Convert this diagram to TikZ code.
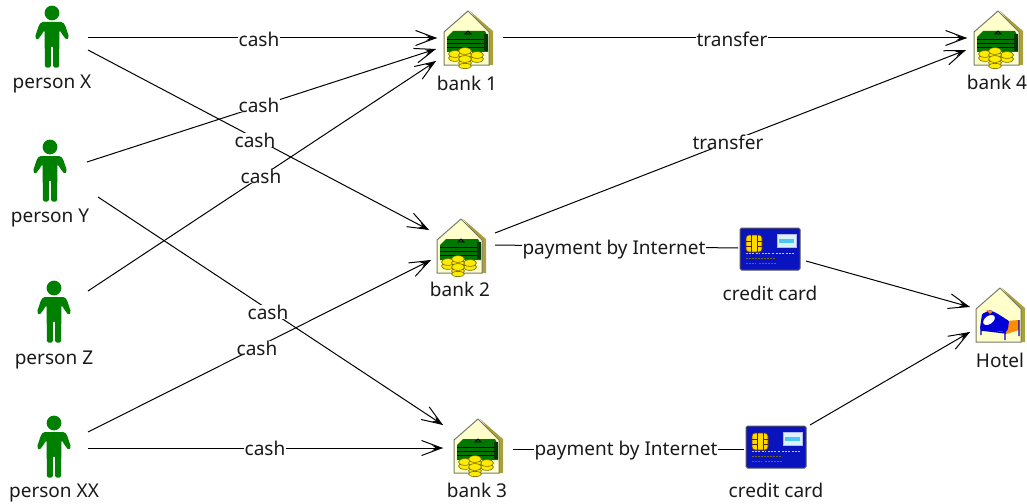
\documentclass[tikz,border=0pt]{standalone}
\usepackage{fontspec}
\setmainfont{Noto Sans}
\usetikzlibrary{arrows.meta,calc}
\definecolor{pgreen}{RGB}{0,128,0}
\definecolor{hyellow}{RGB}{255,255,204}
\definecolor{hgold}{RGB}{170,160,60}
\definecolor{hedge}{RGB}{120,120,110}
\definecolor{bill}{RGB}{0,120,0}
\definecolor{coin}{RGB}{255,235,0}
\definecolor{cardblue}{RGB}{10,20,190}
\tikzset{
  x=1pt,y=-1pt,
  icon/.style={minimum width=#1,inner sep=0pt,outer sep=0pt},
  lbl/.style={font=\fontsize{19}{22}\selectfont,text=black!90,inner sep=1pt},
  elabel/.style={font=\fontsize{19}{22}\selectfont,text=black!90,fill=white,inner xsep=1pt,inner ysep=0pt},
  conn/.style={line width=1pt,black},
  arr/.style={conn,-{Straight Barb[length=20pt,width=15pt,line width=1pt,sep=-11pt]Stealth[length=11pt,width=5.5pt]}},
  personpic/.pic={
    \fill[pgreen] (0,-25) circle[radius=7.4];
    \fill[pgreen,rounded corners=1.5pt] (-10.5,-16) -- (10.5,-16) -- (13,-13) -- (17,-1) -- (15,2) -- (12,-1) -- (7.5,-8) -- (7,29.5) -- (1.2,29.5) -- (1.2,8) -- (-1.2,8) -- (-1.2,29.5) -- (-7,29.5) -- (-7.5,-8) -- (-12,-1) -- (-15,2) -- (-17,-1) -- (-13,-13) -- cycle;
  },
  housebase/.pic={
    \fill[hgold] (1,-27) -- (24,-7) -- (24,27) -- (19,27) -- (19,-5) -- cycle;
    \filldraw[fill=hyellow,draw=hedge,line width=1pt] (-25,-6) -- (-1,-27) -- (20,-6) -- (20,27) -- (-25,27) -- cycle;
  },
  bankpic/.pic={
    \pic {housebase};
    \fill[bill] (-22,-1) -- (-16,-7) -- (16,-7) -- (19,-1) -- (19,14) -- (-22,14) -- cycle;
    \foreach \yy in {1,5,9}{\draw[black,line width=0.8pt] (-22,\yy) -- (15,\yy);}
    \fill[black!55!bill] (15,-4) rectangle (19,13);
    \draw[black,line width=0.8pt] (-1,-7) -- (-4,-4) -- (2,-4) -- cycle;
    \foreach \cx/\cy in {-14/16,8/17,-4/13,-4/21}{
      \filldraw[fill=coin,draw=black!55!coin,line width=0.6pt] (\cx,\cy+4) ellipse[x radius=6.5,y radius=3.4];
      \filldraw[fill=coin,draw=black!55!coin,line width=0.6pt] (\cx,\cy) ellipse[x radius=6.5,y radius=3.4];
    }
    \filldraw[fill=coin,draw=black!55!coin,line width=0.6pt] (-4,28) ellipse[x radius=6.5,y radius=2.6];
  },
  hotelpic/.pic={
    \pic {housebase};
    \fill[orange!90!yellow] (5,6) -- (18,5) -- (18,15) -- (5,19) -- cycle;
    \draw[blue!70!black,line width=1.4pt] (-20,13) -- (-20,20) (4,15) -- (4,25) (18,5) -- (18,21) (-20,15) -- (5,18);
    \fill[blue!85!black,rounded corners=1pt] (-21,13) -- (-19,-1) -- (-11,-5) -- (-3,-1) -- (8,6) -- (7,14) -- (5,17) -- (-20,15) -- cycle;
    \fill[orange!90!yellow] (-15,-5) -- (-8,-4) -- (-11,-1) -- cycle;
    \fill[white] (-12,5) ellipse[x radius=6.5,y radius=4,rotate=35];
  },
  cardpic/.pic={
    \filldraw[fill=cardblue,draw=black!65,line width=1pt,rounded corners=1.5pt] (-30,-21) rectangle (30,21);
    \filldraw[fill=yellow!75!orange,draw=black!60!orange,line width=0.7pt,rounded corners=3pt] (-24,-14) rectangle (-8,3);
    \draw[black!70!orange,line width=0.6pt] (-19,-14) -- (-19,3) (-13,-14) -- (-13,3) (-24,-8) -- (-19,-8) (-24,-3) -- (-19,-3) (-13,-8) -- (-8,-8) (-13,-3) -- (-8,-3);
    \fill[white!85!cyan] (7,-15) rectangle (26,-2);
    \fill[cyan!70!white] (9,-10) rectangle (24,-6);
    \draw[white!70!cardblue,line width=0.8pt] (7,-15) rectangle (26,-2);
    \draw[white!75!cardblue,line width=1.4pt,dash pattern=on 2pt off 1.2pt] (-24,4.5) -- (-10,4.5) (-8,4.5) -- (4,4.5) (6,4.5) -- (24,4.5);
    \draw[black!30!olive,line width=1.5pt,dash pattern=on 2pt off 1pt] (-24,9.5) -- (6,9.5) (-24,14.5) -- (-14,14.5) (-11,14.5) -- (6,14.5);
  },
}
\begin{document}
\begin{tikzpicture}
\useasboundingbox (0,0) rectangle (1027,503);
% icon nodes
\node[icon=34pt,minimum height=60pt] (px) at (52,38) {};
\node[icon=34pt,minimum height=60pt] (py) at (50,172) {};
\node[icon=34pt,minimum height=60pt] (pz) at (54,313) {};
\node[icon=34pt,minimum height=60pt] (pxx) at (54,448) {};
\node[icon=50pt,minimum height=54pt] (b1) at (469,38) {};
\node[icon=50pt,minimum height=54pt] (b2) at (462,246) {};
\node[icon=50pt,minimum height=54pt] (b3) at (479,446) {};
\node[icon=50pt,minimum height=54pt] (b4) at (999,38) {};
\node[icon=60pt,minimum height=42pt] (c1) at (770,249) {};
\node[icon=60pt,minimum height=42pt] (c2) at (776,447) {};
\node[icon=50pt,minimum height=54pt] (h) at (1001,315) {};
\foreach \n in {px,py,pz,pxx}{\pic at (\n) {personpic};}
\foreach \n in {b1,b2,b3,b4}{\pic at (\n) {bankpic};}
\foreach \n in {c1,c2}{\pic at (\n) {cardpic};}
\pic at (h) {hotelpic};
% icon labels
\node[lbl] (lpx) at (52,84) {person X};
\node[lbl] (lpy) at (50,218) {person Y};
\node[lbl] (lpz) at (54,360) {person Z};
\node[lbl] (lpxx) at (54,493) {person XX};
\node[lbl] (lb1) at (467,83) {bank 1};
\node[lbl] (lb2) at (460,289) {bank 2};
\node[lbl] (lb3) at (477,490) {bank 3};
\node[lbl] (lb4) at (997,82) {bank 4};
\node[lbl] (lc1) at (770,293) {credit card};
\node[lbl] (lc2) at (776,490) {credit card};
\node[lbl] (lh) at (1000,360) {Hotel};
% connector ends
\coordinate (px1) at (88,38);  \coordinate (px2) at (88,50);
\coordinate (py1) at (87,162); \coordinate (py2) at (98,197);
\coordinate (pz1) at (88,291);
\coordinate (pxx1) at (88,432); \coordinate (pxx2) at (88,448);
\coordinate (b1a) at (437,38); \coordinate (b1b) at (436,49); \coordinate (b1c) at (436,61);
\coordinate (b2a) at (429,230); \coordinate (b2b) at (431,260);
\coordinate (b3a) at (443,425); \coordinate (b3b) at (443,448);
\coordinate (b1o) at (503,38); \coordinate (b4a) at (967,38);
\coordinate (b2o) at (495,233); \coordinate (b4b) at (966,50);
\coordinate (b2p) at (495,245); \coordinate (c1i) at (738,248);
\coordinate (b3p) at (513,449); \coordinate (c2i) at (744,449);
\coordinate (c1o) at (806,261); \coordinate (ha) at (970,307);
\coordinate (c2o) at (810,425); \coordinate (hb) at (970,332);
% connectors
\draw[arr] (px1) -- (b1a);
\draw[arr] (px2) -- (b2a);
\draw[arr] (py1) -- (b1b);
\draw[arr] (py2) -- (b3a);
\draw[arr] (pz1) -- (b1c);
\draw[arr] (pxx1) -- (b2b);
\draw[arr] (pxx2) -- (b3b);
\draw[arr] (b1o) -- (b4a);
\draw[arr] (b2o) -- (b4b);
\draw[conn] (b2p) -- (c1i);
\draw[conn] (b3p) -- (c2i);
\draw[arr] (c1o) -- (ha);
\draw[arr] (c2o) -- (hb);
% edge labels
\node[elabel] (e1) at (259,39) {cash};
\node[elabel] (e2) at (259,105) {cash};
\node[elabel] (e3) at (255,140) {cash};
\node[elabel] (e4) at (261,176) {cash};
\node[elabel] (e5) at (268,312) {cash};
\node[elabel] (e6) at (257,348) {cash};
\node[elabel] (e7) at (265,448) {cash};
\node[elabel] (e8) at (732,39) {transfer};
\node[elabel] (e9) at (728,142) {transfer};
\node[elabel] (e10) at (614,250) {payment by Internet};
\node[elabel] (e11) at (626,451) {payment by Internet};
\end{tikzpicture}
\end{document}
